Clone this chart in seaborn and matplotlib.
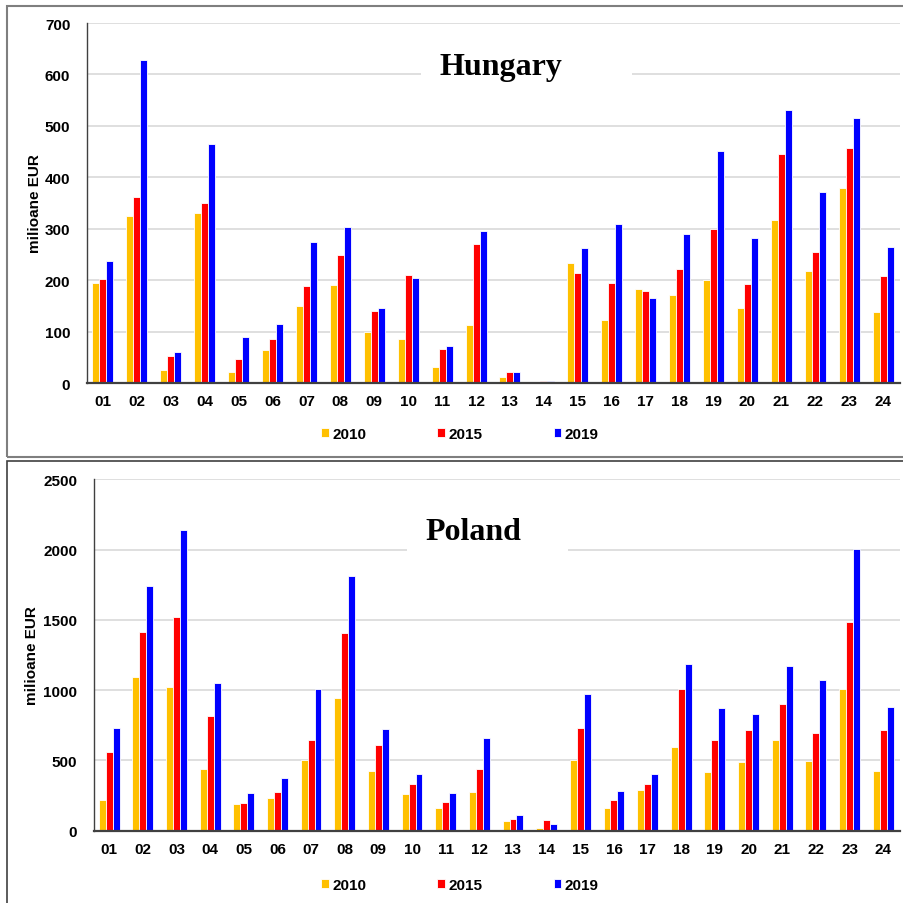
import pandas as pd
import matplotlib.pyplot as plt
import matplotlib.patches as mpatches
import seaborn as sns

# product groups (codes 01-24)
codes = ["01", "02", "03", "04", "05", "06", "07", "08", "09", "10", "11", "12",
         "13", "14", "15", "16", "17", "18", "19", "20", "21", "22", "23", "24"]
years = ["2010", "2015", "2019"]
colors = ["#FFC000", "#FF0000", "#0000FF"]

# Hungary, milioane EUR
hu_2010 = [195, 324, 26, 331, 21, 64, 149, 191, 99, 85, 31, 113,
           11, 1, 234, 122, 182, 171, 200, 145, 317, 217, 379, 138]
hu_2015 = [202, 361, 53, 350, 46, 85, 188, 248, 140, 210, 66, 271,
           21, 3, 214, 194, 178, 222, 300, 192, 446, 254, 456, 208]
hu_2019 = [238, 629, 60, 465, 90, 114, 274, 303, 145, 204, 71, 295,
           21, 3, 262, 309, 165, 289, 452, 282, 531, 371, 516, 264]

# Poland, milioane EUR
pl_2010 = [221, 1091, 1020, 436, 192, 230, 505, 944, 427, 259, 159, 273,
           69, 21, 500, 161, 287, 593, 420, 489, 645, 493, 1010, 425]
pl_2015 = [562, 1416, 1518, 814, 197, 275, 645, 1404, 610, 330, 206, 436,
           85, 76, 733, 216, 332, 1006, 648, 719, 901, 697, 1482, 714]
pl_2019 = [730, 1743, 2142, 1053, 266, 377, 1006, 1812, 726, 406, 270, 662,
           114, 50, 970, 280, 401, 1184, 875, 828, 1174, 1074, 2002, 878]


def long_df(s2010, s2015, s2019):
    frames = []
    for yr, vals in zip(years, [s2010, s2015, s2019]):
        frames.append(pd.DataFrame({"code": codes, "year": yr, "value": vals}))
    return pd.concat(frames, ignore_index=True)


sns.set_style("white")
plt.rcParams["font.family"] = ["Liberation Sans", "DejaVu Sans"]
plt.rcParams["text.color"] = "black"
plt.rcParams["axes.labelcolor"] = "black"
plt.rcParams["xtick.color"] = "black"
plt.rcParams["ytick.color"] = "black"

W = 904.0
fig = plt.figure(figsize=(9.04, 9.04), dpi=100)

# panel frames
fig.patches.append(mpatches.Rectangle((7 / W, 1 - 458 / W), 1.0, (458 - 7) / W,
                                      transform=fig.transFigure, fill=False,
                                      edgecolor="#7f7f7f", linewidth=1.5))
fig.patches.append(mpatches.Rectangle((7 / W, -0.1), 1.0, 0.1 + (904 - 462) / W,
                                      transform=fig.transFigure, fill=False,
                                      edgecolor="#404040", linewidth=1.2))

panels = [
    dict(name="Hungary", data=(hu_2010, hu_2015, hu_2019), ymax=700, step=100,
         rect=(87 / W, 1 - 384 / W, (900 - 87) / W, 360 / W), xl=-0.47,
         title_xy=(501, 67), gap=(421, 632), legend_y=435, ylab_x=-0.0553),
    dict(name="Poland", data=(pl_2010, pl_2015, pl_2019), ymax=2500, step=500,
         rect=(94 / W, 1 - 831.7 / W, (900 - 94) / W, 351.4 / W), xl=-0.45,
         title_xy=(473, 533), gap=(407, 568), legend_y=886, ylab_x=-0.068),
]

for p in panels:
    ax = fig.add_axes(p["rect"])
    df = long_df(*p["data"])
    sns.barplot(data=df, x="code", y="value", hue="year", hue_order=years,
                palette=colors, saturation=1, width=0.62, edgecolor="white",
                linewidth=0.6, ax=ax)
    ax.set_ylim(0, p["ymax"])
    ax.set_xlim(p["xl"], 23.5)
    ax.set_yticks(range(0, p["ymax"] + 1, p["step"]))
    ax.yaxis.grid(True, color="#d9d9d9", linewidth=1.2)
    ax.set_axisbelow(True)
    ax.set_xlabel("")
    ax.set_ylabel("milioane EUR", fontsize=11, fontweight="bold", color="black")
    ax.yaxis.set_label_coords(p["ylab_x"], 0.5)
    ax.tick_params(axis="both", length=0, labelsize=11, labelcolor="black")
    ax.tick_params(axis="y", pad=12)
    ax.tick_params(axis="x", pad=8)
    for lab in ax.get_xticklabels() + ax.get_yticklabels():
        lab.set_fontweight("bold")
    for s in ["top", "right"]:
        ax.spines[s].set_visible(False)
    ax.spines["left"].set_color("#404040")
    ax.spines["left"].set_linewidth(1.0)
    ax.spines["bottom"].set_color("#404040")
    ax.spines["bottom"].set_linewidth(1.6)

    # white title area hiding the grid line
    tx, ty = p["title_xy"]
    g0, g1 = p["gap"]
    fig.patches.append(mpatches.Rectangle((g0 / W, 1 - (ty + 22) / W), (g1 - g0) / W, 40 / W,
                                          transform=fig.transFigure, facecolor="white",
                                          edgecolor="none", zorder=1.5))
    fig.text(tx / W, 1 - ty / W, p["name"], ha="center", va="center", color="black",
             fontsize=23, fontweight="bold", family=["Liberation Serif", "DejaVu Serif"],
             zorder=3)

    sns.move_legend(ax, loc="center", bbox_to_anchor=(460 / W, 1 - p["legend_y"] / W),
                    bbox_transform=fig.transFigure, ncol=3, frameon=False, title=None,
                    handlelength=0.52, handleheight=0.52, handletextpad=0.2,
                    columnspacing=4.65, prop={"weight": "bold", "size": 11})
    for t in ax.get_legend().get_texts():
        t.set_color("black")

fig.savefig("out.png", dpi=100)
